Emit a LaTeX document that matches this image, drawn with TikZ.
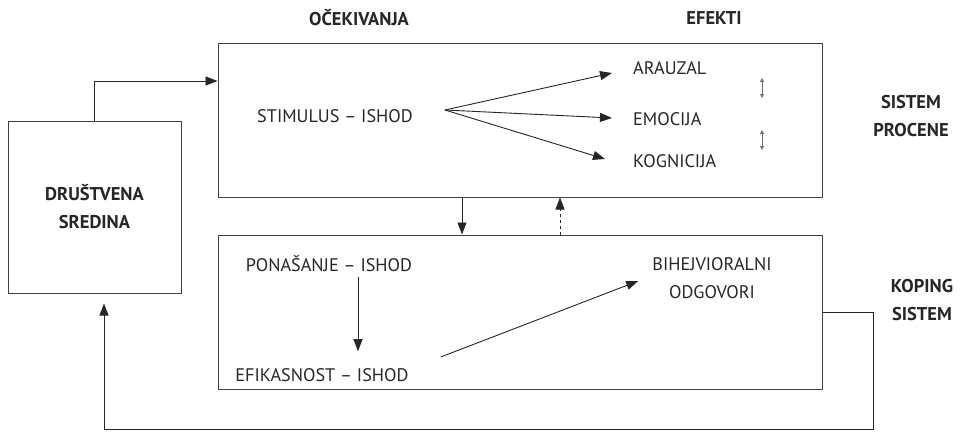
\documentclass[tikz,border=0pt]{standalone}
\usepackage{fontspec}
\setmainfont{PT Sans}
\usetikzlibrary{positioning,arrows.meta}

\tikzset{
  box/.style={draw=black!75, line width=1pt, rectangle},
  lbl/.style={font=\fontsize{18.2}{28}\selectfont, text=black!85, inner sep=2pt},
  head/.style={lbl, font=\fontsize{18.5}{28}\selectfont\bfseries, align=center},
  arr/.style={-{Triangle[length=12pt,width=9pt]}, draw=black!85, line width=0.9pt},
  dbl/.style={{Triangle[length=4pt,width=4pt]}-{Triangle[length=4pt,width=4pt]}, draw=black!55, line width=0.9pt}
}

\begin{document}
\begin{tikzpicture}[x=1pt, y=-1pt]
    \useasboundingbox (0,0) rectangle (961,431);

    % Define nodes
    \node[box, minimum width=604pt, minimum height=154pt]		(procena)	at (520,120)	{};
    \node[box, minimum width=604pt, minimum height=154pt]		(koping)	at (520,312)	{};
    \node[box, head, minimum width=173pt, minimum height=172pt]	(sredina)	at (94.5,207)	{DRUŠTVENA\\SREDINA};

    \node[head]		(ocek)		at (359,18)	{OČEKIVANJA};
    \node[head]		(efekti)	at (714,18)	{EFEKTI};
    \node[head]		(sisproc)	at (911,116)	{SISTEM\\PROCENE};
    \node[head]		(siskop)	at (922,300)	{KOPING\\SISTEM};

    \node[lbl]		(stim)		at (335,116)	{STIMULUS – ISHOD};
    \node[lbl, anchor=west]	(arauzal)	at (631,68)	{ARAUZAL};
    \node[lbl, anchor=west]	(emocija)	at (631,119)	{EMOCIJA};
    \node[lbl, anchor=west]	(kognicija)	at (631,161)	{KOGNICIJA};

    \node[lbl]		(ponas)		at (329,264)	{PONAŠANJE – ISHOD};
    \node[lbl]		(efik)		at (322,375)	{EFIKASNOST – ISHOD};
    \node[lbl, align=center]	(bihejv)	at (712,278)	{BIHEJVIORALNI\\ODGOVORI};

    % Connect nodes
    \coordinate (split) at ([xshift=30pt, yshift=6pt]stim.east);
    \draw[arr] (split) -- ([xshift=-19pt, yshift=-5pt]arauzal.west);
    \draw[arr] (split) -- ([xshift=-19pt, yshift=1pt]emocija.west);
    \draw[arr] (split) -- ([xshift=-26pt, yshift=2pt]kognicija.west);

    \draw[dbl] ([xshift=131pt, yshift=-10pt]arauzal.west) -- ([xshift=131pt, yshift=-30pt]arauzal.west);
    \draw[dbl] ([xshift=131pt, yshift=-11pt]emocija.west) -- ([xshift=131pt, yshift=-31pt]emocija.west);

    \coordinate (pdown) at (358,0);
    \draw[arr, shorten <=3pt, shorten >=15pt] (ponas.south -| pdown) -- (efik.north -| pdown);
    \draw[arr] ([xshift=30pt, yshift=18pt]efik.east) -- ([xshift=-12pt, yshift=-3pt]bihejv.west);

    \draw[arr] ([xshift=-58pt]procena.south) -- ([xshift=-58pt]koping.north);
    \draw[arr, dashed] ([xshift=40pt]koping.north) -- ([xshift=40pt]procena.south);

    % feedback loop
    \coordinate (loopR) at (873,429);
    \coordinate (loopL) at (104,429);
    \draw[arr] (sredina.north) |- ([yshift=39pt]procena.west);
    \draw[arr] (koping.east) -| (loopR) -- (loopL) -- ([yshift=-10pt]sredina.south -| loopL);
\end{tikzpicture}
\end{document}
